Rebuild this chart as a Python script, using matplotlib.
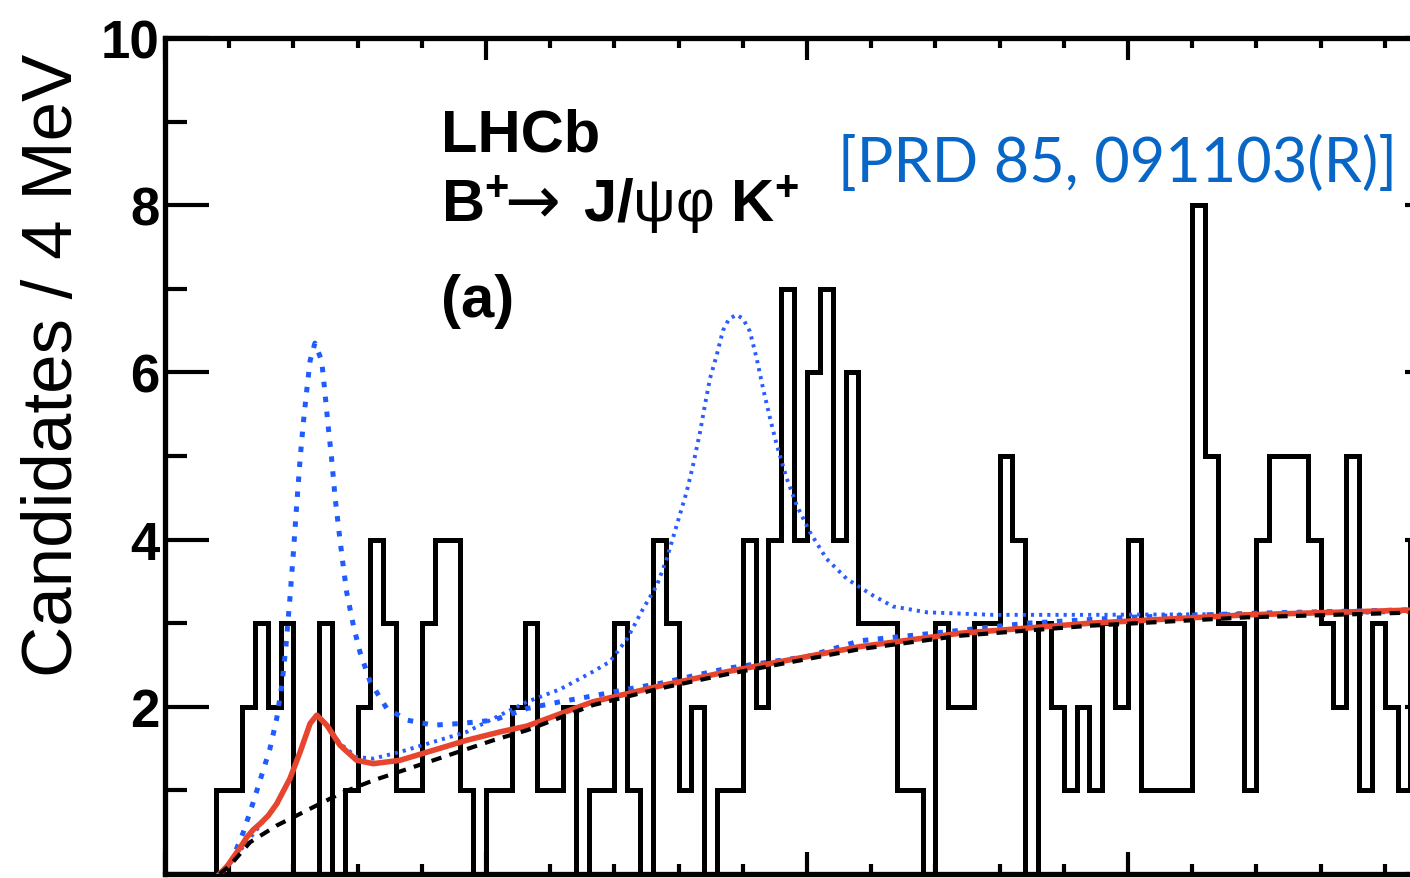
import matplotlib.pyplot as plt
import numpy as np

plt.rcParams['font.family'] = ['Liberation Sans', 'DejaVu Sans']
plt.rcParams['mathtext.fontset'] = 'custom'
plt.rcParams['mathtext.rm'] = 'Liberation Sans'
plt.rcParams['mathtext.bf'] = 'Liberation Sans:bold'
plt.rcParams['mathtext.it'] = 'Liberation Sans:italic'

# J/psi phi invariant mass, 4 MeV bins from 4100 MeV
bin_lo = 4100
bin_width = 4
counts = [0, 0, 0, 0, 1, 1, 2, 3, 2, 3,
          0, 0, 3, 0, 1, 2, 4, 3, 1, 1,
          3, 4, 4, 1, 0, 1, 1, 2, 3, 1,
          1, 2, 0, 1, 1, 3, 1, 0, 4, 3,
          1, 2, 0, 1, 1, 4, 2, 4, 7, 4,
          6, 7, 4, 6, 3, 3, 3, 1, 1, 0,
          3, 2, 2, 3, 3, 5, 4, 0, 3, 2,
          1, 2, 1, 3, 2, 4, 1, 1, 1, 1,
          8, 5, 3, 3, 1, 4, 5, 5, 5, 4,
          3, 2, 5, 1, 3, 2, 1, 4]

# background only
bkg_mass = [4117, 4120.2, 4126.5, 4134.8, 4142.1, 4146.2, 4155, 4164.9, 4177.4,
            4189.8, 4202.3, 4212.8, 4233.3, 4254.2, 4275.1, 4291.6, 4316.5,
            4347.7, 4388.2, 4437, 4500]
bkg_val = [0, 0.10, 0.38, 0.58, 0.72, 0.80, 0.97, 1.12, 1.28,
           1.44, 1.60, 1.72, 2.02, 2.22, 2.39, 2.51, 2.69,
           2.85, 2.97, 3.07, 3.14]

# default fit
fit_mass = [4117, 4119.5, 4121.3, 4123.5, 4125.5, 4127.5, 4129.6, 4132.2, 4134.8,
            4138.9, 4142.1, 4145.2, 4147.3, 4150.4, 4154.5, 4159.7, 4164.9,
            4173.2, 4183.6, 4194.0, 4204.4, 4212.8, 4233.3, 4254.2, 4275.1,
            4291.6, 4316.5, 4347.7, 4388.2, 4437, 4500]
fit_val = [0, 0.10, 0.20, 0.32, 0.44, 0.53, 0.60, 0.70, 0.84,
           1.14, 1.46, 1.80, 1.90, 1.78, 1.54, 1.36, 1.32,
           1.36, 1.48, 1.60, 1.70, 1.77, 2.06, 2.25, 2.42,
           2.54, 2.72, 2.88, 3.00, 3.10, 3.17]

# expected X(4140) signal (CDF)
x4140_mass = [4117, 4120.8, 4124.4, 4127.5, 4130.1, 4132.7, 4134.8, 4136.4, 4137.6,
              4138.9, 4140.0, 4141.0, 4142.1, 4143.1, 4144.2, 4145.2, 4146.7,
              4148.8, 4149.8, 4150.8, 4151.9, 4153.0, 4154.2, 4155.3, 4156.6,
              4158.7, 4160.7, 4163.9, 4169.1, 4175.5, 4183.6, 4192.0, 4202.3,
              4212.8, 4223.1, 4233.3, 4243.9, 4254.2, 4264.5, 4275.1, 4290.7,
              4300, 4316.5, 4339.3, 4368.6, 4400, 4440, 4500]
x4140_val = [0, 0.16, 0.50, 0.86, 1.18, 1.50, 1.86, 2.26, 2.69,
             3.29, 3.85, 4.40, 4.97, 5.40, 5.80, 6.14, 6.35,
             6.14, 5.77, 5.37, 4.97, 4.50, 4.10, 3.75, 3.37,
             2.97, 2.66, 2.30, 1.98, 1.84, 1.78, 1.80, 1.84,
             1.98, 2.06, 2.13, 2.21, 2.28, 2.37, 2.46, 2.55,
             2.60, 2.79, 2.88, 3.00, 3.07, 3.12, 3.17]

# expected X(4274) signal (CDF)
x4274_mass = [4117, 4121.3, 4129.6, 4134.8, 4138.9, 4142.1, 4145.2, 4147.3, 4150.4,
              4154.5, 4159.7, 4164.9, 4173.2, 4183.6, 4194.0, 4202.3, 4212.8,
              4223.1, 4233.3, 4238.6, 4243.9, 4248.9, 4253.2, 4256.3, 4259.4,
              4262.5, 4264.5, 4266.7, 4268.2, 4269.8, 4271.9, 4273.8, 4275.7,
              4278.1, 4280.1, 4282.2, 4284.3, 4286.3, 4288.5, 4290.6, 4293.7,
              4296.8, 4300.9, 4306.1, 4312.4, 4320.6, 4326.8, 4337.4, 4357.9,
              4388.2, 4440, 4500]
x4274_val = [0, 0.18, 0.58, 0.82, 1.14, 1.46, 1.80, 1.90, 1.79,
             1.56, 1.40, 1.38, 1.46, 1.58, 1.70, 1.86, 2.06,
             2.21, 2.42, 2.54, 2.81, 3.17, 3.45, 3.77, 4.17,
             4.57, 4.89, 5.29, 5.61, 5.93, 6.21, 6.50, 6.64,
             6.69, 6.64, 6.49, 6.17, 5.81, 5.45, 5.13, 4.73,
             4.41, 4.09, 3.77, 3.53, 3.33, 3.20, 3.13, 3.10,
             3.10, 3.11, 3.14]

edges = bin_lo + bin_width * np.arange(len(counts) + 1)

fig = plt.figure(figsize=(14.1, 8.79), dpi=100)
ax = fig.add_axes([165 / 1410, 4 / 879, 1284 / 1410, 836 / 879])

ax.stairs(counts, edges, color='black', linewidth=3.6, zorder=2)
ax.plot(x4274_mass, x4274_val, color='#2a5cff', linewidth=2.8,
        linestyle=(0, (0.8, 1.3)), zorder=3)
ax.plot(x4140_mass, x4140_val, color='#1f5cff', linewidth=3.6,
        linestyle=(0, (1.1, 1.9)), zorder=4)
ax.plot(fit_mass, fit_val, color='#e8452e', linewidth=4.0, zorder=5)
ax.plot(bkg_mass, bkg_val, color='black', linewidth=3.0,
        linestyle=(0, (2.5, 2.0)), zorder=6)

ax.set_xlim(4100, 4500)
ax.set_ylim(0, 10)

ax.set_xticks(np.arange(4100, 4501, 100))
ax.set_xticks(np.arange(4100, 4501, 20), minor=True)
ax.set_yticks([0, 2, 4, 6, 8, 10], labels=['', '2', '4', '6', '8', '10'],
              fontsize=38, fontweight='bold')
ax.set_yticks(np.arange(1, 10, 2), minor=True)

ax.tick_params(axis='x', which='both', direction='in', top=True, bottom=True,
               labelbottom=False, width=3)
ax.tick_params(axis='x', which='major', length=16)
ax.tick_params(axis='x', which='minor', length=7)
ax.tick_params(axis='y', which='both', direction='in', left=True, right=True,
               width=3, pad=4)
ax.tick_params(axis='y', which='major', length=32)
ax.tick_params(axis='y', which='minor', length=16)

for s in ax.spines.values():
    s.set_linewidth(3.8)

fig.text(54 / 1410, 1 - 365 / 879, 'Candidates / 4 MeV', rotation=90,
         ha='center', va='center', fontsize=51)

# decay label, drawn in pieces so the arrow keeps its long thin shape
ax.text(4186, 8.65, 'LHCb', fontsize=43, fontweight='bold', va='baseline')
ax.text(4186, 7.8, r'$\mathbf{B^{+}}$', fontsize=43, va='baseline')
ax.text(4205.5, 7.8, '\u2192', fontsize=48, family='DejaVu Sans', va='baseline')
ax.text(4230.2, 7.8, r'$\mathbf{J/}\mathrm{\psi\varphi}\ \mathbf{K^{+}}$',
        fontsize=43, va='baseline')
ax.text(4186, 6.67, '(a)', fontsize=43, fontweight='bold', va='baseline')
ax.text(4309.7, 8.29, '[PRD 85, 091103(R)]', fontsize=44, color='#0766c6',
        family='Lato', va='baseline')

fig.savefig('out.png', dpi=100)
